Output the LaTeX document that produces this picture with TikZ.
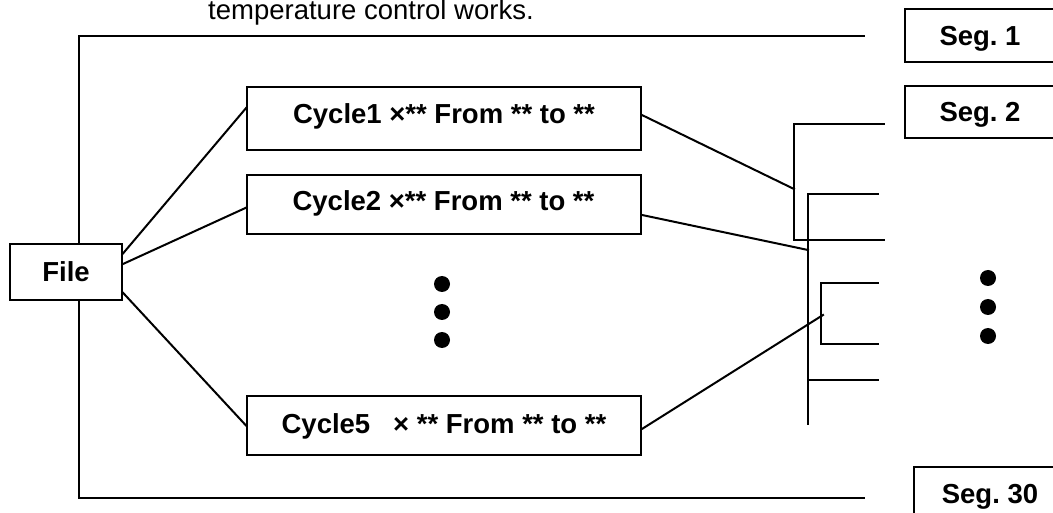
\documentclass[tikz,border=0pt]{standalone}
\usepackage{fontspec}
\setmainfont{Liberation Sans}
\frenchspacing
\begin{document}
\begin{tikzpicture}[x=1pt,y=-1pt,
  ln/.style={line width=2pt, line cap=rect},
  box/.style={draw, line width=2pt, inner sep=0pt, font=\fontsize{27.5}{33}\selectfont\bfseries},
  capc/.style={text height=20pt, text depth=0pt},
  cyc/.style={box, minimum width=394, text height=20pt},
  segbox/.style={box, capc, minimum width=150, minimum height=53},
  dot/.style={circle, fill, inner sep=0pt, minimum size=16}]
\useasboundingbox (0,0) rectangle (1053,513);
\clip (0,0) rectangle (1053,513);
% caption fragment
\node[anchor=base west, inner sep=0pt, font=\fontsize{27.5}{33}\selectfont] (cap) at (208,19.5) {temperature control works.};
% nodes
\node[box, capc, minimum width=112, minimum height=56] (file) at (66,272) {File};
\node[cyc, minimum height=63, text depth=10pt] (c1) at (444,118.5) {Cycle1 ×** From ** to **};
\node[cyc, minimum height=59, text depth=7pt] (c2) at (443.5,204.5) {Cycle2 ×** From ** to **};
\node[cyc, minimum height=59, text depth=4pt] (c5) at (444,425.5) {Cycle5 \ \ × ** From ** to **};
\node[segbox] (s1) at (980,35.5) {Seg. 1};
\node[segbox, minimum height=52] (s2) at (980,112) {Seg. 2};
\node[segbox, minimum width=152] (s30) at (990,493.5) {Seg. 30};
% dots
\node[dot] (d1) at (442,284) {};
\node[dot] (d2) at (442,312) {};
\node[dot] (d3) at (442,340) {};
\node[dot] (e1) at (988,278) {};
\node[dot] (e2) at (988,307) {};
\node[dot] (e3) at (988,336) {};
% coordinates
\coordinate (ox) at (79,0);
\coordinate (o1) at (864,36);
\coordinate (o2) at (864,498);
\coordinate (j1) at (794,189);
\coordinate (j2) at (808,250);
\coordinate (j3) at (823,315);
% outer bracket
\draw[ln] (o1) -- (ox |- o1) -- (ox |- file.north);
\draw[ln] (ox |- file.south) -- (ox |- o2) -- (o2);
% file to cycles
\draw[ln] (file.18) -- (c1.177);
\draw[ln] (file.8) -- (c2.181.6);
\draw[ln] (file.-20) -- (c5.180.4);
% cycles to brackets
\draw[ln] (c1.1.9) -- (j1);
\draw[ln] (c2.-3.9) -- (j2);
\draw[ln] (c5.-1.9) -- (j3);
% right brackets
\draw[ln] (884,124) -- (794,124) -- (794,240) -- (884,240);
\draw[ln] (878,194) -- (808,194) -- (808,424);
\draw[ln] (808,380) -- (878,380);
\draw[ln] (878,283) -- (821,283) -- (821,344) -- (878,344);
\end{tikzpicture}
\end{document}
